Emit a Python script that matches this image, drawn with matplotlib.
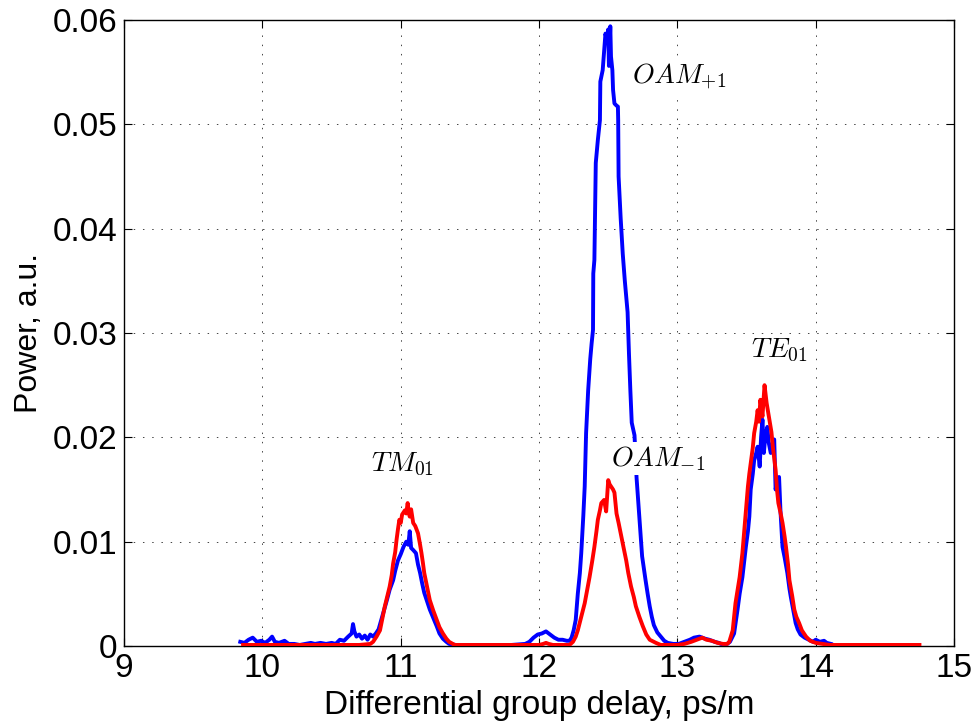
import numpy as np
import matplotlib
matplotlib.use("Agg")
import matplotlib.pyplot as plt

plt.rcParams['mathtext.fontset'] = 'cm'
plt.rcParams['font.family'] = ['Liberation Sans', 'DejaVu Sans']

# === Blue trace ===
blue_x = [9.84, 9.87, 9.90, 9.93, 9.96, 9.99, 10.02, 10.05, 10.07, 10.09, 10.12, 10.16, 10.19,
          10.23, 10.27, 10.31, 10.35, 10.38, 10.42, 10.46, 10.50, 10.53, 10.56, 10.59, 10.62,
          10.645, 10.655, 10.665, 10.68, 10.70, 10.72, 10.74, 10.76, 10.78, 10.80, 10.82, 10.84,
          10.87, 10.90, 10.92, 10.945, 10.96, 10.98, 11.00, 11.02, 11.04, 11.055, 11.065, 11.075,
          11.09, 11.11, 11.125, 11.14, 11.155, 11.17, 11.19, 11.21, 11.235, 11.26, 11.28, 11.305,
          11.33, 11.35, 11.40, 11.50, 11.60, 11.70, 11.80, 11.90, 11.93, 11.96, 11.99, 12.02,
          12.05, 12.08, 12.11, 12.14, 12.17, 12.20, 12.22, 12.235, 12.25, 12.265, 12.28, 12.295,
          12.305, 12.32, 12.33, 12.34, 12.355, 12.37, 12.38, 12.39, 12.392, 12.40, 12.405, 12.41,
          12.425, 12.44, 12.443, 12.46, 12.47, 12.48, 12.49, 12.50, 12.505, 12.515, 12.52, 12.53,
          12.535, 12.545, 12.56, 12.57, 12.572, 12.575, 12.59, 12.605, 12.62, 12.64, 12.65, 12.66,
          12.67, 12.69, 12.705, 12.715, 12.725, 12.735, 12.745, 12.76, 12.77, 12.785, 12.80,
          12.815, 12.83, 12.855, 12.88, 12.905, 12.93, 12.97, 13.01, 13.05, 13.09, 13.12, 13.16,
          13.20, 13.23, 13.27, 13.30, 13.33, 13.36, 13.38, 13.41, 13.435, 13.45, 13.47, 13.495,
          13.51, 13.52, 13.53, 13.545, 13.555, 13.57, 13.58, 13.595, 13.605, 13.615, 13.625,
          13.635, 13.65, 13.66, 13.675, 13.69, 13.70, 13.71, 13.72, 13.735, 13.745, 13.76, 13.775,
          13.795, 13.81, 13.82, 13.84, 13.855, 13.87, 13.89, 13.92, 13.95, 13.98, 14.00, 14.03,
          14.06, 14.08, 14.11]
blue_y = [0.0004, 0.0003, 0.0006, 0.0008, 0.0004, 0.0005, 0.0003, 0.0006, 0.0009, 0.0004, 0.0003,
          0.0005, 0.0002, 0.0002, 0.0001, 0.0002, 0.0003, 0.0002, 0.0003, 0.0002, 0.0003, 0.0002,
          0.0006, 0.0005, 0.0009, 0.0012, 0.0021, 0.0014, 0.0009, 0.0011, 0.0007, 0.0010, 0.0006,
          0.0011, 0.0009, 0.0012, 0.0016, 0.0030, 0.0044, 0.0054, 0.0063, 0.0072, 0.0082, 0.0088,
          0.0095, 0.0100, 0.0097, 0.0110, 0.0094, 0.0092, 0.0089, 0.0078, 0.0070, 0.0060, 0.0051,
          0.0043, 0.0035, 0.0027, 0.0019, 0.0012, 0.0007, 0.0004, 0.0002, 0.0001, 0.0001, 0.0001,
          0.0001, 0.0001, 0.0002, 0.0004, 0.0008, 0.0011, 0.0012, 0.0014, 0.0011, 0.0008, 0.0006,
          0.0006, 0.0005, 0.0005, 0.0008, 0.0015, 0.0025, 0.0050, 0.0070, 0.0089, 0.0125, 0.0153,
          0.0204, 0.0245, 0.0275, 0.0290, 0.0303, 0.0357, 0.0370, 0.0420, 0.0463, 0.0485, 0.0504,
          0.0541, 0.0552, 0.0570, 0.0587, 0.0580, 0.0591, 0.0556, 0.0594, 0.0565, 0.0552, 0.0533,
          0.0520, 0.0518, 0.0517, 0.0504, 0.0450, 0.0410, 0.0376, 0.0350, 0.0320, 0.0280, 0.0245,
          0.0214, 0.0202, 0.0161, 0.0142, 0.0124, 0.0105, 0.0086, 0.0072, 0.0063, 0.0050, 0.0038,
          0.0028, 0.0020, 0.0013, 0.0009, 0.0005, 0.0003, 0.0002, 0.0002, 0.0004, 0.0006, 0.0008,
          0.0009, 0.0007, 0.0006, 0.0004, 0.0003, 0.0001, 0.0002, 0.0004, 0.0012, 0.0035, 0.0050,
          0.0066, 0.0095, 0.0110, 0.0124, 0.0150, 0.0165, 0.0178, 0.0185, 0.0191, 0.0172, 0.0200,
          0.0217, 0.0185, 0.0200, 0.0210, 0.0195, 0.0185, 0.0195, 0.0198, 0.0150, 0.0158, 0.0162,
          0.0130, 0.0095, 0.0085, 0.0070, 0.0055, 0.0047, 0.0033, 0.0022, 0.0016, 0.0011, 0.0008,
          0.0006, 0.0004, 0.0006, 0.0004, 0.0005, 0.0003, 0.0002]

# === Red trace ===
red_x = [9.86, 10.20, 10.50, 10.70, 10.78, 10.80, 10.825, 10.85, 10.865, 10.885, 10.90, 10.92,
         10.935, 10.945, 10.96, 10.97, 10.98, 10.99, 11.00, 11.01, 11.03, 11.04, 11.05, 11.058,
         11.065, 11.075, 11.09, 11.105, 11.125, 11.14, 11.15, 11.16, 11.17, 11.19, 11.21, 11.235,
         11.26, 11.28, 11.305, 11.33, 11.35, 11.39, 11.60, 11.80, 12.00, 12.03, 12.05, 12.07,
         12.10, 12.22, 12.245, 12.265, 12.28, 12.305, 12.33, 12.35, 12.365, 12.385, 12.40, 12.415,
         12.425, 12.44, 12.45, 12.47, 12.485, 12.50, 12.51, 12.52, 12.535, 12.545, 12.56, 12.575,
         12.59, 12.61, 12.63, 12.645, 12.665, 12.685, 12.70, 12.725, 12.75, 12.775, 12.80, 12.845,
         12.88, 13.00, 13.05, 13.10, 13.14, 13.18, 13.21, 13.25, 13.29, 13.33, 13.36, 13.375,
         13.40, 13.42, 13.45, 13.47, 13.49, 13.51, 13.52, 13.53, 13.545, 13.555, 13.57, 13.58,
         13.59, 13.60, 13.615, 13.625, 13.63, 13.645, 13.655, 13.665, 13.68, 13.69, 13.70, 13.71,
         13.72, 13.73, 13.745, 13.76, 13.775, 13.785, 13.80, 13.81, 13.83, 13.845, 13.86, 13.88,
         13.90, 13.93, 13.96, 14.00, 14.10, 14.40, 14.75]
red_y = [0.0001, 0.0001, 0.0001, 0.0001, 0.0002, 0.0004, 0.0009, 0.0015, 0.0025, 0.0038, 0.0046,
         0.0057, 0.0068, 0.0079, 0.0090, 0.0102, 0.0112, 0.0121, 0.0118, 0.0126, 0.0130, 0.0127,
         0.0137, 0.0128, 0.0124, 0.0131, 0.0118, 0.0115, 0.0108, 0.0097, 0.0089, 0.0080, 0.0070,
         0.0057, 0.0044, 0.0034, 0.0025, 0.0018, 0.0012, 0.0007, 0.0004, 0.0001, 0.0001, 0.0001,
         0.0001, 0.0002, 0.0003, 0.0002, 0.0001, 0.0001, 0.0004, 0.0009, 0.0015, 0.0028, 0.0041,
         0.0055, 0.0066, 0.0082, 0.0095, 0.0110, 0.0121, 0.0130, 0.0137, 0.0140, 0.0129, 0.0159,
         0.0155, 0.0153, 0.0150, 0.0147, 0.0127, 0.0118, 0.0108, 0.0095, 0.0082, 0.0070, 0.0057,
         0.0047, 0.0038, 0.0028, 0.0019, 0.0011, 0.0006, 0.0003, 0.0001, 0.0001, 0.0002, 0.0004,
         0.0006, 0.0008, 0.0006, 0.0005, 0.0003, 0.0002, 0.0002, 0.0004, 0.0015, 0.0041, 0.0066,
         0.0089, 0.0121, 0.0153, 0.0165, 0.0175, 0.0190, 0.0204, 0.0215, 0.0226, 0.0215, 0.0236,
         0.0220, 0.0240, 0.0250, 0.0233, 0.0225, 0.0217, 0.0205, 0.0191, 0.0180, 0.0169, 0.0150,
         0.0137, 0.0128, 0.0118, 0.0105, 0.0095, 0.0078, 0.0063, 0.0048, 0.0035, 0.0028, 0.0022,
         0.0015, 0.0009, 0.0005, 0.0003, 0.0001, 0.0001, 0.0001]

# === Peak labels ===
labels = [r'$TM_{01}$', r'$OAM_{+1}$', r'$OAM_{-1}$', r'$TE_{01}$']
label_x = [11.01, 12.67, 12.52, 13.74]
label_y = [0.0174, 0.0545, 0.0180, 0.0283]
label_ha = ['center', 'left', 'left', 'center']

x_ticks = [9, 10, 11, 12, 13, 14, 15]
y_ticks = [0, 0.01, 0.02, 0.03, 0.04, 0.05, 0.06]
y_ticklabels = ['0', '0.01', '0.02', '0.03', '0.04', '0.05', '0.06']

fig = plt.figure(figsize=(9.77, 7.23), dpi=100)
ax = fig.add_axes([0.127, 0.1065, 0.8495, 0.8658])

ax.plot(blue_x, blue_y, color=(0, 0, 1), lw=2.8, solid_joinstyle='round', zorder=3)
ax.plot(red_x, red_y, color=(1, 0, 0), lw=2.8, solid_joinstyle='round', zorder=4)

for txt, lx, ly, ha in zip(labels, label_x, label_y, label_ha):
    ax.text(lx, ly, txt, fontsize=20, ha=ha, va='center', zorder=5,
            bbox=dict(facecolor='white', edgecolor='none', pad=1.5))

ax.set_xlim(9, 15)
ax.set_ylim(0, 0.06)
ax.set_xticks(x_ticks)
ax.set_yticks(y_ticks)
ax.set_yticklabels(y_ticklabels)
ax.tick_params(direction='in', length=6, width=0.8, labelsize=24, top=True, right=True, pad=5)
ax.grid(True, color='#444444', lw=0.7, linestyle=(0, (1.5, 8)))
for sp in ax.spines.values():
    sp.set_linewidth(1.0)

ax.set_xlabel('Differential group delay, ps/m', fontsize=24, labelpad=4)
ax.set_ylabel('Power, a.u.', fontsize=23, labelpad=6)

fig.savefig('out.png', dpi=100)
